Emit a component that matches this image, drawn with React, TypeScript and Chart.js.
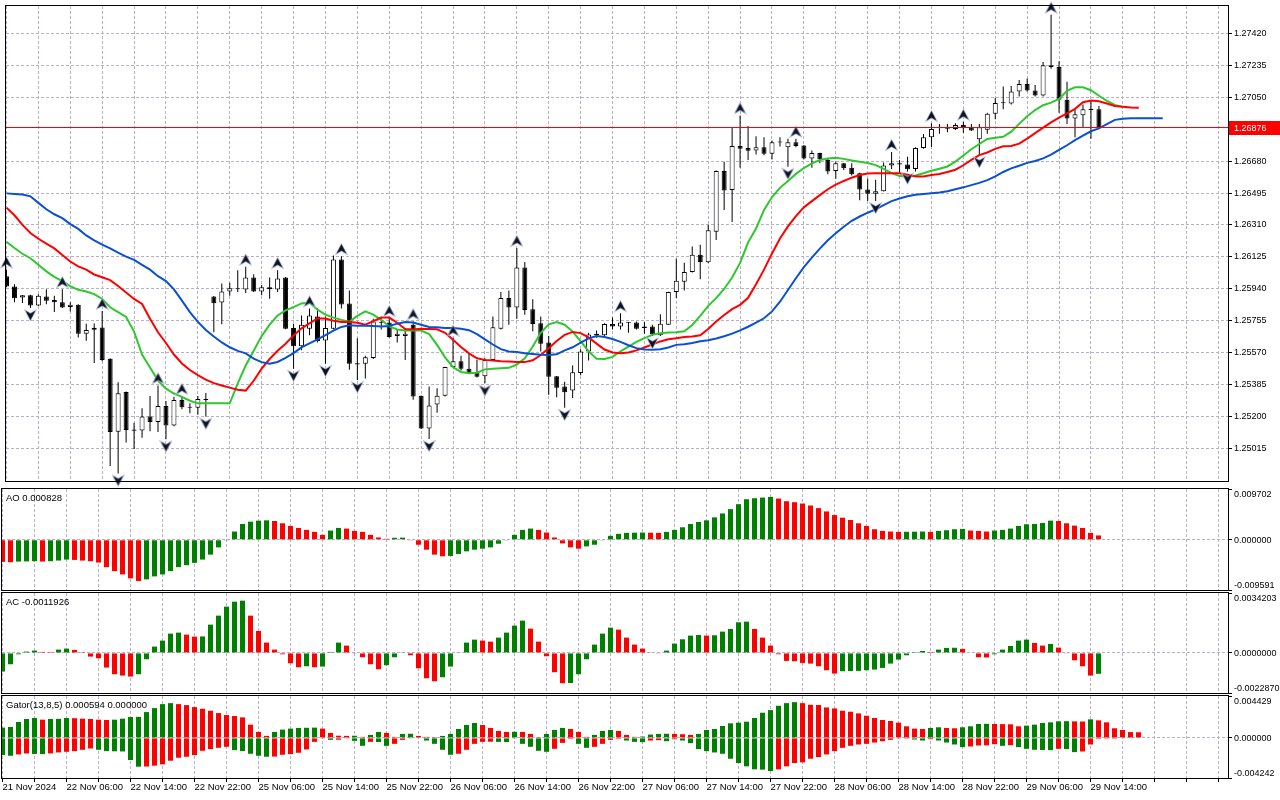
import React, { useEffect, useRef } from "react";
import { Chart, registerables } from "chart.js";

Chart.register(...registerables);

const FONT = '"Liberation Sans", Arial, sans-serif';
const Y_FONT_SIZE = 9;
const X_FONT_SIZE = 9.5;
const TITLE_FONT_SIZE = 9.5;
const GRID = "#b8b0c4";
const GREEN = "#008000";
const RED = "#ff0000";
const BLUE = "#0a50d2";
const LIME = "#2ec82e";

// ---------- time axis ----------
const X_LABELS = [
  "21 Nov 2024", "22 Nov 06:00", "22 Nov 14:00", "22 Nov 22:00", "25 Nov 06:00", "25 Nov 14:00",
  "25 Nov 22:00", "26 Nov 06:00", "26 Nov 14:00", "26 Nov 22:00", "27 Nov 06:00", "27 Nov 14:00",
  "27 Nov 22:00", "28 Nov 06:00", "28 Nov 14:00", "28 Nov 22:00", "29 Nov 06:00", "29 Nov 14:00",
];
const X_LABEL_STEP = 8;
const GRID_STEP = 4;
const X_MIN = -0.0625;
const X_MAX = 153.1875;

// ---------- price (H1 candles) ----------
const OPEN = [
  1.26013,1.25953,1.25890,1.25903,1.25843,1.25896,1.25875,1.25862,1.25834,1.25847,
  1.25680,1.25703,1.25716,1.25535,1.25112,1.25342,1.25125,1.25119,1.25200,1.25168,
  1.25261,1.25147,1.25295,1.25257,1.25250,1.25299,1.25896,1.25860,1.25924,1.25938,
  1.25936,1.26006,1.25925,1.25949,1.25936,1.26006,1.25713,1.25607,1.25709,1.25779,
  1.25641,1.25709,1.26110,1.25855,1.25509,1.25505,1.25539,1.25747,1.25745,1.25666,
  1.25666,1.25732,1.25320,1.25131,1.25269,1.25320,1.25486,1.25520,1.25477,1.25458,
  1.25433,1.25528,1.25709,1.25887,1.25832,1.26063,1.25821,1.25741,1.25628,1.25433,
  1.25373,1.25350,1.25452,1.25577,1.25679,1.25671,1.25736,1.25721,1.25743,1.25745,
  1.25713,1.25722,1.25671,1.25732,1.25921,1.25981,1.26038,1.26138,1.26094,1.26270,
  1.26623,1.26512,1.26767,1.26756,1.26742,1.26761,1.26723,1.26788,1.26761,1.26790,
  1.26771,1.26695,1.26727,1.26686,1.26623,1.26667,1.26642,1.26610,1.26516,1.26491,
  1.26506,1.26654,1.26667,1.26661,1.26635,1.26756,1.26819,1.26874,1.26878,1.26866,
  1.26889,1.26876,1.26806,1.26862,1.26955,1.27016,1.27014,1.27084,1.27127,1.27089,
  1.27061,1.27235,1.27225,1.27036,1.26927,1.26946,1.26980,1.26980,
];
const HIGH = [
  1.26052,1.25966,1.25904,1.25905,1.25909,1.25937,1.25900,1.25937,1.25862,1.25850,
  1.25737,1.25739,1.25811,1.25537,1.25399,1.25345,1.25163,1.25248,1.25319,1.25380,
  1.25289,1.25314,1.25318,1.25276,1.25318,1.25336,1.25898,1.25971,1.25975,1.26048,
  1.26068,1.26025,1.25962,1.26006,1.26048,1.26008,1.25736,1.25785,1.25826,1.25826,
  1.25779,1.26133,1.26129,1.25930,1.25653,1.25552,1.25766,1.25770,1.25770,1.25704,
  1.25713,1.25751,1.25322,1.25373,1.25363,1.25488,1.25656,1.25552,1.25562,1.25528,
  1.25537,1.25779,1.25921,1.25930,1.26176,1.26095,1.25879,1.25779,1.25666,1.25435,
  1.25401,1.25496,1.25590,1.25685,1.25698,1.25741,1.25773,1.25798,1.25747,1.25751,
  1.25747,1.25732,1.25792,1.25923,1.26114,1.26091,1.26185,1.26195,1.26311,1.26625,
  1.26676,1.26875,1.26945,1.26884,1.26824,1.26818,1.26799,1.26818,1.26809,1.26809,
  1.26773,1.26742,1.26729,1.26695,1.26676,1.26669,1.26667,1.26612,1.26578,1.26572,
  1.26672,1.26733,1.26686,1.26705,1.26761,1.26837,1.26900,1.26895,1.26895,1.26900,
  1.26908,1.26895,1.26895,1.26961,1.27046,1.27112,1.27116,1.27150,1.27159,1.27121,
  1.27254,1.27528,1.27259,1.27140,1.26980,1.27008,1.27031,1.26999,
];
const LOW = [
  1.25950,1.25862,1.25858,1.25828,1.25840,1.25851,1.25805,1.25828,1.25809,1.25658,
  1.25639,1.25510,1.25520,1.24913,1.24870,1.25049,1.25011,1.25077,1.25115,1.25110,
  1.25068,1.25143,1.25242,1.25219,1.25210,1.25200,1.25688,1.25735,1.25900,1.25921,
  1.25915,1.25921,1.25902,1.25883,1.25921,1.25705,1.25477,1.25584,1.25671,1.25628,
  1.25505,1.25705,1.25826,1.25471,1.25411,1.25420,1.25533,1.25704,1.25656,1.25628,
  1.25528,1.25297,1.25127,1.25070,1.25222,1.25316,1.25486,1.25467,1.25446,1.25426,
  1.25392,1.25524,1.25704,1.25732,1.25766,1.25789,1.25694,1.25577,1.25326,1.25312,
  1.25250,1.25307,1.25439,1.25524,1.25656,1.25666,1.25704,1.25704,1.25685,1.25704,
  1.25679,1.25666,1.25666,1.25730,1.25887,1.25930,1.26034,1.25996,1.26090,1.26223,
  1.26397,1.26327,1.26642,1.26686,1.26718,1.26714,1.26689,1.26765,1.26648,1.26761,
  1.26689,1.26642,1.26667,1.26604,1.26578,1.26629,1.26597,1.26453,1.26449,1.26449,
  1.26504,1.26635,1.26610,1.26620,1.26620,1.26752,1.26762,1.26838,1.26847,1.26861,
  1.26844,1.26855,1.26715,1.26838,1.26923,1.26980,1.27008,1.27055,1.27084,1.27055,
  1.27055,1.27216,1.26961,1.26895,1.26819,1.26876,1.26810,1.26870,
];
const CLOSE = [
  1.25953,1.25885,1.25902,1.25843,1.25900,1.25870,1.25862,1.25832,1.25847,1.25679,
  1.25701,1.25714,1.25527,1.25110,1.25335,1.25121,1.25117,1.25200,1.25168,1.25261,
  1.25147,1.25295,1.25253,1.25250,1.25301,1.25295,1.25856,1.25924,1.25943,1.25941,
  1.26006,1.25925,1.25949,1.25938,1.26000,1.25709,1.25607,1.25732,1.25785,1.25637,
  1.25713,1.26110,1.25849,1.25505,1.25501,1.25543,1.25751,1.25743,1.25660,1.25679,
  1.25679,1.25316,1.25131,1.25263,1.25320,1.25486,1.25520,1.25477,1.25448,1.25430,
  1.25528,1.25717,1.25887,1.25832,1.26063,1.25817,1.25736,1.25622,1.25430,1.25367,
  1.25341,1.25456,1.25577,1.25675,1.25671,1.25736,1.25722,1.25745,1.25745,1.25709,
  1.25722,1.25675,1.25738,1.25921,1.25987,1.26038,1.26138,1.26095,1.26279,1.26623,
  1.26510,1.26767,1.26752,1.26740,1.26761,1.26723,1.26790,1.26790,1.26790,1.26767,
  1.26695,1.26727,1.26691,1.26620,1.26667,1.26638,1.26604,1.26516,1.26491,1.26506,
  1.26654,1.26667,1.26661,1.26633,1.26756,1.26818,1.26866,1.26876,1.26868,1.26889,
  1.26870,1.26857,1.26876,1.26955,1.27017,1.27019,1.27084,1.27127,1.27089,1.27061,
  1.27235,1.27225,1.27036,1.26927,1.26951,1.26980,1.26976,1.26876,
];

// ---------- Alligator (already shifted forward) ----------
const JAW = [
  1.26493,1.26489,1.26486,1.26476,1.26438,1.26401,1.26372,1.26349,1.26315,1.26287,
  1.26249,1.26221,1.26196,1.26174,1.26149,1.26126,1.26108,1.26079,1.26051,1.26013,
  1.25985,1.25937,1.25871,1.25805,1.25748,1.25701,1.25663,1.25629,1.25601,1.25580,
  1.25566,1.25535,1.25515,1.25505,1.25516,1.25539,1.25567,1.25600,1.25624,1.25647,
  1.25671,1.25698,1.25719,1.25728,1.25726,1.25726,1.25724,1.25721,1.25724,1.25738,
  1.25747,1.25745,1.25732,1.25719,1.25717,1.25713,1.25713,1.25709,1.25700,1.25677,
  1.25647,1.25617,1.25590,1.25577,1.25573,1.25567,1.25562,1.25558,1.25556,1.25560,
  1.25583,1.25601,1.25628,1.25653,1.25666,1.25660,1.25649,1.25632,1.25613,1.25596,
  1.25588,1.25586,1.25590,1.25600,1.25615,1.25618,1.25626,1.25636,1.25642,1.25652,
  1.25665,1.25680,1.25699,1.25720,1.25744,1.25769,1.25809,1.25865,1.25933,1.26001,
  1.26066,1.26121,1.26173,1.26221,1.26262,1.26300,1.26334,1.26359,1.26381,1.26400,
  1.26425,1.26448,1.26463,1.26476,1.26485,1.26489,1.26494,1.26498,1.26505,1.26517,
  1.26528,1.26541,1.26554,1.26570,1.26592,1.26617,1.26638,1.26653,1.26670,1.26681,
  1.26696,1.26717,1.26745,1.26772,1.26802,1.26828,1.26853,1.26870,1.26895,1.26919,
  1.26925,1.26929,1.26929,1.26929,1.26929,1.26929,
];
const TEETH = [
  1.26410,1.26366,1.26310,1.26263,1.26230,1.26202,1.26174,1.26136,1.26098,1.26070,
  1.26051,1.26023,1.26007,1.25990,1.25956,1.25919,1.25881,1.25852,1.25767,1.25688,
  1.25626,1.25559,1.25507,1.25469,1.25440,1.25414,1.25393,1.25380,1.25367,1.25355,
  1.25350,1.25407,1.25477,1.25533,1.25581,1.25622,1.25670,1.25711,1.25739,1.25768,
  1.25768,1.25755,1.25747,1.25747,1.25743,1.25732,1.25753,1.25773,1.25773,1.25743,
  1.25707,1.25704,1.25709,1.25707,1.25705,1.25685,1.25645,1.25603,1.25566,1.25537,
  1.25528,1.25524,1.25520,1.25518,1.25515,1.25515,1.25526,1.25556,1.25596,1.25637,
  1.25673,1.25690,1.25683,1.25658,1.25622,1.25588,1.25571,1.25566,1.25571,1.25583,
  1.25600,1.25618,1.25635,1.25647,1.25654,1.25660,1.25664,1.25671,1.25707,1.25750,
  1.25788,1.25822,1.25847,1.25888,1.25967,1.26051,1.26145,1.26232,1.26302,1.26361,
  1.26412,1.26448,1.26483,1.26517,1.26544,1.26565,1.26584,1.26599,1.26608,1.26610,
  1.26610,1.26610,1.26610,1.26601,1.26591,1.26591,1.26600,1.26605,1.26617,1.26630,
  1.26656,1.26687,1.26715,1.26730,1.26751,1.26766,1.26768,1.26781,1.26810,1.26842,
  1.26874,1.26904,1.26932,1.26957,1.26983,1.27021,1.27031,1.27027,1.27014,1.26999,
  1.26995,1.26991,1.26989,
];
const LIPS = [
  1.26212,1.26176,1.26143,1.26117,1.26079,1.26041,1.26009,1.25985,1.25956,1.25934,
  1.25924,1.25909,1.25881,1.25833,1.25805,1.25777,1.25692,1.25559,1.25484,1.25408,
  1.25361,1.25333,1.25314,1.25291,1.25276,1.25276,1.25276,1.25276,1.25276,1.25392,
  1.25496,1.25581,1.25666,1.25732,1.25785,1.25815,1.25834,1.25855,1.25860,1.25819,
  1.25790,1.25773,1.25760,1.25749,1.25783,1.25809,1.25790,1.25760,1.25722,1.25704,
  1.25698,1.25698,1.25698,1.25677,1.25615,1.25543,1.25486,1.25458,1.25450,1.25454,
  1.25473,1.25477,1.25479,1.25482,1.25501,1.25537,1.25605,1.25685,1.25734,1.25747,
  1.25732,1.25692,1.25636,1.25577,1.25535,1.25533,1.25545,1.25577,1.25605,1.25632,
  1.25654,1.25673,1.25683,1.25687,1.25688,1.25694,1.25730,1.25783,1.25841,1.25886,
  1.25939,1.26005,1.26090,1.26208,1.26289,1.26397,1.26472,1.26525,1.26565,1.26606,
  1.26640,1.26667,1.26686,1.26695,1.26699,1.26693,1.26684,1.26676,1.26669,1.26657,
  1.26635,1.26610,1.26593,1.26591,1.26597,1.26610,1.26624,1.26636,1.26649,1.26677,
  1.26713,1.26749,1.26779,1.26808,1.26815,1.26821,1.26851,1.26896,1.26940,1.26976,
  1.27004,1.27019,1.27040,1.27087,1.27108,1.27108,1.27091,1.27059,1.27029,1.27006,
  1.26993,
];

// ---------- Fractals (bar indices) ----------
const FRACTAL_UP = [0, 7, 12, 19, 22, 30, 34, 38, 42, 48, 51, 56, 64, 77, 92, 99, 111, 116, 120, 131];
const FRACTAL_DOWN = [3, 14, 20, 25, 36, 40, 44, 53, 60, 70, 81, 98, 109, 113, 122];

// ---------- Awesome Oscillator ----------
const AO = [
  -0.004221,-0.004284,-0.004158,-0.004127,-0.004095,-0.004158,-0.004095,-0.003969,-0.003780,-0.003843,
  -0.003969,-0.004095,-0.004347,-0.005229,-0.005985,-0.006615,-0.007371,-0.007875,-0.007560,-0.006993,
  -0.006615,-0.005985,-0.005229,-0.004851,-0.004410,-0.003780,-0.002835,-0.001449,-0.000063,0.001575,
  0.003024,0.003465,0.003654,0.003717,0.003591,0.003150,0.002646,0.002268,0.001890,0.001512,
  0.000945,0.001764,0.002268,0.002142,0.001701,0.001512,0.000945,0.000441,0.000189,0.000378,
  0.000410,-0.000063,-0.000945,-0.001890,-0.002835,-0.003150,-0.003087,-0.002709,-0.002205,-0.001890,
  -0.001701,-0.001449,-0.000756,-0.000126,0.000945,0.001890,0.002142,0.001890,0.001386,0.000441,
  -0.000693,-0.001449,-0.001701,-0.001260,-0.000945,-0.000126,0.000756,0.001134,0.001323,0.001355,
  0.001386,0.001355,0.001323,0.001512,0.001890,0.002394,0.003024,0.003402,0.003717,0.004284,
  0.005040,0.005859,0.006804,0.007749,0.007938,0.008064,0.008190,0.007875,0.007371,0.007182,
  0.006930,0.006552,0.006048,0.005418,0.004725,0.004221,0.003780,0.003150,0.002646,0.002016,
  0.001701,0.001575,0.001512,0.001531,0.001550,0.001575,0.001512,0.001701,0.001827,0.002016,
  0.002079,0.001764,0.001701,0.001575,0.001764,0.001890,0.002142,0.002646,0.002961,0.003024,
  0.003213,0.003654,0.003591,0.003150,0.002709,0.002268,0.001323,0.000828,
];
const AO_FIRST_UP = false;

// ---------- Accelerator Oscillator ----------
const AC = [
  -0.001064,-0.000646,-0.000076,0.000076,0.000133,0.000057,0.000048,0.000190,0.000247,0.000171,
  0.000010,-0.000209,-0.000304,-0.000836,-0.001216,-0.001292,-0.001349,-0.001216,-0.000361,0.000361,
  0.000703,0.001102,0.001159,0.001045,0.000931,0.000941,0.001615,0.002128,0.002641,0.002926,
  0.002983,0.002128,0.001254,0.000589,0.000190,-0.000076,-0.000589,-0.000817,-0.000760,-0.000817,
  -0.000779,0.000057,0.000589,0.000418,-0.000038,-0.000247,-0.000646,-0.000931,-0.000703,-0.000247,
  0.000019,-0.000133,-0.000874,-0.001444,-0.001615,-0.001387,-0.000779,0.000019,0.000589,0.000760,
  0.000703,0.000646,0.000874,0.001159,0.001558,0.001843,0.001387,0.000646,-0.000190,-0.001102,
  -0.001729,-0.001720,-0.001216,-0.000361,0.000475,0.001102,0.001444,0.001330,0.000874,0.000475,
  0.000247,0.000019,-0.000019,0.000133,0.000532,0.000779,0.000988,0.001026,0.000988,0.001007,
  0.001216,0.001368,0.001748,0.001786,0.001368,0.000874,0.000418,-0.000076,-0.000456,-0.000475,
  -0.000570,-0.000608,-0.000760,-0.000988,-0.001178,-0.001045,-0.001036,-0.001026,-0.000988,-0.000950,
  -0.000855,-0.000608,-0.000380,-0.000133,0.000010,0.000114,0.000057,0.000190,0.000285,0.000295,
  0.000228,0.000000,-0.000247,-0.000257,-0.000076,0.000190,0.000399,0.000703,0.000760,0.000570,
  0.000418,0.000513,0.000304,-0.000038,-0.000418,-0.000760,-0.001292,-0.0011926,
];
const AC_FIRST_UP = true;

// ---------- Gator Oscillator ----------
const GATOR_UP = [
  0.001085,0.001155,0.001680,0.001995,0.002100,0.001925,0.001995,0.002013,0.002100,0.002083,
  0.002030,0.001995,0.001925,0.001890,0.001925,0.002030,0.002205,0.002223,0.002730,0.003150,
  0.003570,0.003675,0.003570,0.003465,0.003255,0.003080,0.002870,0.002625,0.002415,0.002310,
  0.002170,0.001400,0.000630,0.000210,0.000630,0.000875,0.000980,0.001050,0.001068,0.001085,
  0.000980,0.000525,0.000228,0.000210,0.000228,0.000105,0.000315,0.000630,0.000525,0.000105,
  0.000420,0.000438,0.000210,0.000105,0.000018,0.000210,0.000420,0.000945,0.001365,0.001575,
  0.001365,0.001050,0.000735,0.000630,0.000648,0.000630,0.000420,0.000018,0.000420,0.000840,
  0.001050,0.000945,0.000630,0.000105,0.000315,0.000735,0.000840,0.000735,0.000315,0.000105,
  0.000140,0.000350,0.000420,0.000438,0.000420,0.000385,0.000315,0.000420,0.000840,0.000945,
  0.001260,0.001540,0.001610,0.001715,0.002100,0.002660,0.002940,0.003395,0.003675,0.003780,
  0.003675,0.003500,0.003483,0.003220,0.003115,0.002870,0.002765,0.002590,0.002345,0.002100,
  0.001890,0.001785,0.001610,0.001225,0.000980,0.000945,0.001050,0.001120,0.001050,0.001015,
  0.001120,0.001225,0.001470,0.001488,0.001470,0.001453,0.001435,0.001225,0.001295,0.001400,
  0.001575,0.001645,0.001750,0.001768,0.001750,0.001733,0.001960,0.001855,0.001645,0.001015,
  0.000840,0.000613,0.000594,
];
const GATOR_DOWN = [
  -0.001820,-0.001890,-0.001750,-0.001645,-0.001698,-0.001715,-0.001645,-0.001540,-0.001470,-0.001400,
  -0.001260,-0.001120,-0.001260,-0.001400,-0.001418,-0.001435,-0.002345,-0.003045,-0.003028,-0.002940,
  -0.002800,-0.002415,-0.002100,-0.001995,-0.001820,-0.001365,-0.001190,-0.001050,-0.000945,-0.001295,
  -0.001400,-0.001680,-0.001890,-0.001995,-0.001978,-0.001785,-0.001715,-0.001575,-0.001225,-0.000420,
  -0.000070,-0.000210,-0.000193,-0.000070,-0.000315,-0.000840,-0.000420,-0.000438,-0.000840,-0.000630,
  -0.000210,-0.000070,-0.000053,-0.000280,-0.000630,-0.001260,-0.001785,-0.001680,-0.001260,-0.000630,
  -0.000420,-0.000403,-0.000420,-0.000438,-0.000070,-0.000630,-0.000945,-0.001365,-0.001470,-0.001155,
  -0.000525,-0.000105,-0.000630,-0.001050,-0.000945,-0.000630,-0.000210,-0.000105,-0.000280,-0.000420,
  -0.000455,-0.000280,-0.000245,-0.000350,-0.000140,-0.000280,-0.000560,-0.001190,-0.001400,-0.001540,
  -0.001680,-0.002205,-0.002660,-0.003010,-0.003325,-0.003360,-0.003500,-0.003325,-0.003010,-0.002660,
  -0.002590,-0.002205,-0.002030,-0.001750,-0.001400,-0.001050,-0.000840,-0.000700,-0.000630,-0.000490,
  -0.000350,-0.000210,-0.000035,-0.000018,-0.000175,-0.000280,-0.000140,-0.000280,-0.000490,-0.000700,
  -0.000980,-0.000910,-0.000805,-0.000788,-0.000665,-0.000840,-0.000770,-0.000980,-0.001155,-0.001260,
  -0.001278,-0.001295,-0.001155,-0.001173,-0.001505,-0.001435,-0.000700,-0.000105,-0.000018,-0.000007,
  0,
];

// ---------- axis tick labels ----------
const PRICE_TICKS = [1.2742, 1.27235, 1.2705, 1.26865, 1.2668, 1.26495, 1.2631, 1.26125, 1.2594, 1.25755, 1.2557, 1.25385, 1.252, 1.25015];
const PRICE_MIN = 1.24826;
const PRICE_MAX = 1.27579;
const LAST_PRICE = 1.26876;
const AO_AXIS = [0.009702, 0, -0.009591];
const AC_AXIS = [0.0034203, 0, -0.002287];
const GATOR_AXIS = [0.004429, 0, -0.004242];

const GRID_TICKS: number[] = [];
for (let v = 0; v <= X_MAX; v += GRID_STEP) GRID_TICKS.push(v);

function xAxis(showLabels: boolean) {
  return {
    type: "linear",
    position: "bottom",
    min: X_MIN,
    max: X_MAX,
    bounds: "data",
    offset: false,
    afterBuildTicks: (s: any) => {
      s.ticks = GRID_TICKS.map((v) => ({ value: v }));
    },
    afterFit: (s: any) => {
      s.height = showLabels ? 22 : 0;
      s.paddingLeft = 0;
      s.paddingRight = 0;
      s.paddingTop = 0;
      s.paddingBottom = 0;
    },
    grid: {
      display: true,
      offset: false,
      color: GRID,
      lineWidth: 1,
      drawTicks: showLabels,
      tickLength: 4,
      tickColor: "#000",
      tickBorderDash: [],
    },
    border: { display: false, dash: [3, 2] },
    ticks: {
      display: showLabels,
      autoSkip: false,
      maxRotation: 0,
      minRotation: 0,
      align: "start",
      padding: 0,
      color: "#000",
      font: { family: FONT, size: X_FONT_SIZE },
      callback: (v: any) => {
        const n = Number(v);
        return n % X_LABEL_STEP === 0 && X_LABELS[n / X_LABEL_STEP] ? X_LABELS[n / X_LABEL_STEP] : "";
      },
    },
  };
}

function indicatorY(axis: number[]) {
  return {
    type: "linear",
    position: "right",
    min: axis[2],
    max: axis[0],
    bounds: "data",
    beginAtZero: false,
    afterBuildTicks: (s: any) => {
      s.ticks = axis.map((v) => ({ value: v }));
    },
    afterFit: (s: any) => {
      s.width = 52;
      s.paddingTop = 0;
      s.paddingBottom = 0;
    },
    grid: {
      color: (c: any) => (c.tick && c.tick.value === 0 ? GRID : "rgba(0,0,0,0)"),
      drawTicks: true,
      tickLength: 4,
      tickColor: "#000",
      tickBorderDash: [],
    },
    border: { display: false, dash: [3, 2] },
    ticks: { display: false },
  };
}

const framePlugin = {
  id: "paneFrame",
  afterDraw(chart: any) {
    const { ctx, chartArea: ca } = chart;
    ctx.save();
    ctx.setLineDash([]);
    ctx.strokeStyle = "#000";
    ctx.lineWidth = 1;
    ctx.strokeRect(ca.left - 0.5, ca.top - 0.5, ca.right - ca.left + 1, ca.bottom - ca.top + 1);
    ctx.restore();
  },
};

function paneText(title: string, axis: number[], decimals: number) {
  return {
    id: "paneText",
    afterDraw(chart: any) {
      const { ctx, chartArea: ca, scales } = chart;
      const y = scales.y;
      ctx.save();
      ctx.fillStyle = "#000";
      ctx.textAlign = "left";
      ctx.textBaseline = "alphabetic";
      ctx.font = `${TITLE_FONT_SIZE}px ${FONT}`;
      ctx.fillText(title, ca.left + 4, ca.top + 11.5);
      ctx.font = `${Y_FONT_SIZE}px ${FONT}`;
      axis.forEach((v, k) => {
        let py = y.getPixelForValue(v) + 3.3;
        if (k === 0) py = ca.top + 8;
        if (k === axis.length - 1) py = ca.bottom - 2.5;
        ctx.fillText(v.toFixed(decimals), ca.right + 6, py);
      });
      ctx.restore();
    },
  };
}

const priceLinePlugin = {
  id: "priceLine",
  afterDatasetsDraw(chart: any) {
    const { ctx, chartArea: ca, scales } = chart;
    const py = Math.floor(scales.y.getPixelForValue(LAST_PRICE));
    ctx.save();
    ctx.fillStyle = RED;
    ctx.fillRect(ca.left, py, ca.right - ca.left, 1);
    ctx.restore();
  },
  afterDraw(chart: any) {
    const { ctx, chartArea: ca, scales } = chart;
    const py = Math.floor(scales.y.getPixelForValue(LAST_PRICE));
    ctx.save();
    ctx.fillStyle = RED;
    ctx.fillRect(ca.right + 1, py - 6, 51, 14);
    ctx.fillStyle = "#fff";
    ctx.font = `${Y_FONT_SIZE}px ${FONT}`;
    ctx.textAlign = "left";
    ctx.textBaseline = "alphabetic";
    ctx.fillText(LAST_PRICE.toFixed(5), ca.right + 6, py + 4.3);
    ctx.restore();
  },
};

function makeArrow(up: boolean) {
  const c = document.createElement("canvas");
  c.width = 13;
  c.height = 34;
  const g = c.getContext("2d") as CanvasRenderingContext2D;
  const s = up ? 1 : -1;
  const cx = 6.5;
  const cy = 17 - 7 * s;
  g.beginPath();
  g.moveTo(cx, cy - 5 * s);
  g.lineTo(cx + 5, cy + 4.5 * s);
  g.lineTo(cx, cy + 1.5 * s);
  g.lineTo(cx - 5, cy + 4.5 * s);
  g.closePath();
  g.lineWidth = 1.4;
  g.strokeStyle = "#a9bddc";
  g.stroke();
  g.fillStyle = "#111122";
  g.fill();
  return c;
}

const baseOptions = {
  responsive: false,
  maintainAspectRatio: false,
  animation: false,
  devicePixelRatio: 1,
  events: [],
  plugins: { legend: { display: false }, tooltip: { enabled: false } },
};

function barColors(vals: number[], firstUp: boolean, useAbs: boolean) {
  return vals.map((v, i) => {
    if (i === 0) return firstUp ? GREEN : RED;
    const a = useAbs ? Math.abs(v) : v;
    const b = useAbs ? Math.abs(vals[i - 1]) : vals[i - 1];
    return a > b ? GREEN : RED;
  });
}

export default function App() {
  const mainRef = useRef<HTMLCanvasElement>(null);
  const aoRef = useRef<HTMLCanvasElement>(null);
  const acRef = useRef<HTMLCanvasElement>(null);
  const gatorRef = useRef<HTMLCanvasElement>(null);

  useEffect(() => {
    document.body.style.margin = "0";
    const charts: any[] = [];
    const idx = OPEN.map((_, i) => i);
    const upArrow = makeArrow(true);
    const downArrow = makeArrow(false);

    const line = (vals: number[], color: string) => ({
      type: "line",
      data: vals.map((v, i) => ({ x: i, y: v })),
      borderColor: color,
      borderWidth: 2,
      pointRadius: 0,
      tension: 0,
      fill: false,
      order: 1,
    });

    charts.push(
      new Chart(mainRef.current as any, {
        type: "bar",
        data: {
          datasets: [
            {
              type: "bar",
              data: idx.map((i) => ({ x: i, y: [LOW[i], HIGH[i]] })),
              backgroundColor: "#000",
              barThickness: 1,
              grouped: false,
              inflateAmount: 0,
              borderWidth: 0,
              order: 3,
            },
            {
              type: "bar",
              data: idx.map((i) => ({ x: i, y: [Math.min(OPEN[i], CLOSE[i]), Math.max(OPEN[i], CLOSE[i])] })),
              backgroundColor: idx.map((i) => (CLOSE[i] >= OPEN[i] ? "#ffffff" : "#000000")),
              borderColor: "#000",
              borderWidth: 1,
              borderSkipped: false,
              barThickness: 5,
              minBarLength: 1,
              grouped: false,
              inflateAmount: 0,
              order: 2,
            },
            line(JAW, BLUE),
            line(TEETH, RED),
            line(LIPS, LIME),
            {
              type: "line",
              showLine: false,
              data: FRACTAL_UP.map((i) => ({ x: i, y: HIGH[i] })),
              pointStyle: upArrow,
              pointRadius: 5,
              clip: false,
              order: 0,
            },
            {
              type: "line",
              showLine: false,
              data: FRACTAL_DOWN.map((i) => ({ x: i, y: LOW[i] })),
              pointStyle: downArrow,
              pointRadius: 5,
              clip: false,
              order: 0,
            },
          ],
        } as any,
        options: {
          ...baseOptions,
          layout: { padding: { left: 2, right: 0, top: 1, bottom: 1 } },
          scales: {
            x: xAxis(false),
            y: {
              type: "linear",
              position: "right",
              min: PRICE_MIN,
              max: PRICE_MAX,
              bounds: "data",
              beginAtZero: false,
              afterBuildTicks: (s: any) => {
                s.ticks = PRICE_TICKS.map((v) => ({ value: v }));
              },
              afterFit: (s: any) => {
                s.width = 52;
                s.paddingTop = 0;
                s.paddingBottom = 0;
              },
              grid: {
                color: (c: any) =>
                  c.tick && Math.abs(c.tick.value - LAST_PRICE) < 0.0002 ? "rgba(0,0,0,0)" : GRID,
                drawTicks: true,
                tickLength: 4,
                tickColor: "#000",
                tickBorderDash: [],
              },
              border: { display: false, dash: [3, 2] },
              ticks: {
                autoSkip: false,
                padding: 2,
                color: "#000",
                font: { family: FONT, size: Y_FONT_SIZE },
                callback: (v: any) => Number(v).toFixed(5),
              },
            },
          },
        } as any,
        plugins: [priceLinePlugin, framePlugin],
      })
    );

    const indicator = (
      canvas: any,
      datasets: any[],
      axis: number[],
      padding: any,
      title: string,
      decimals: number,
      showX: boolean
    ) =>
      new Chart(canvas, {
        type: "bar",
        data: { datasets } as any,
        options: {
          ...baseOptions,
          layout: { padding },
          scales: { x: xAxis(showX), y: indicatorY(axis) },
        } as any,
        plugins: [framePlugin, paneText(title, axis, decimals)],
      });

    const barSet = (vals: number[], colors: string[]) => ({
      type: "bar",
      data: vals.map((v, i) => ({ x: i, y: v })),
      backgroundColor: colors,
      barThickness: 5,
      grouped: false,
      inflateAmount: 0,
      borderWidth: 0,
    });

    charts.push(
      indicator(
        aoRef.current,
        [barSet(AO, barColors(AO, AO_FIRST_UP, false))],
        AO_AXIS,
        { left: 2, right: 0, top: 2, bottom: 2 },
        `AO ${AO[AO.length - 1].toFixed(6)}`,
        6,
        false
      )
    );
    charts.push(
      indicator(
        acRef.current,
        [barSet(AC, barColors(AC, AC_FIRST_UP, false))],
        AC_AXIS,
        { left: 2, right: 0, top: 1, bottom: 2 },
        `AC ${AC[AC.length - 1].toFixed(7)}`,
        7,
        false
      )
    );
    charts.push(
      indicator(
        gatorRef.current,
        [
          barSet(GATOR_UP, barColors(GATOR_UP, true, true)),
          barSet(GATOR_DOWN, barColors(GATOR_DOWN, true, true)),
        ],
        GATOR_AXIS,
        { left: 2, right: 0, top: 1, bottom: 0 },
        `Gator(13,8,5) ${GATOR_UP[GATOR_UP.length - 1].toFixed(6)} ${Math.abs(GATOR_DOWN[GATOR_DOWN.length - 1]).toFixed(6)}`,
        6,
        true
      )
    );

    return () => charts.forEach((c) => c.destroy());
  }, []);

  const cv = (top: number): React.CSSProperties => ({ position: "absolute", left: 0, top });
  return (
    <div style={{ position: "relative", width: 1280, height: 800, background: "#fff", overflow: "hidden" }}>
      <canvas ref={mainRef} width={1280} height={487} style={cv(0)} />
      <canvas ref={aoRef} width={1280} height={105} style={cv(487)} />
      <canvas ref={acRef} width={1280} height={103} style={cv(592)} />
      <canvas ref={gatorRef} width={1280} height={105} style={cv(695)} />
    </div>
  );
}
